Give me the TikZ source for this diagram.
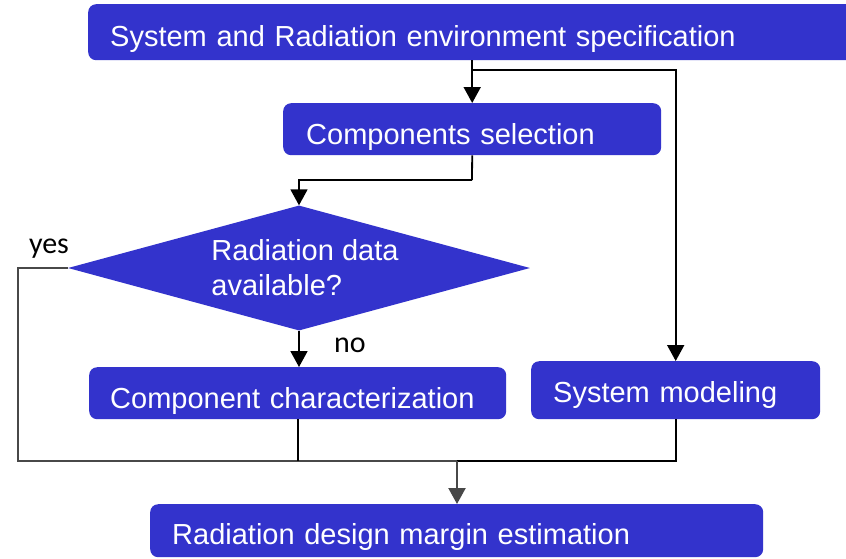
\documentclass[tikz,border=0pt]{standalone}
\usepackage{fontspec}
\setmainfont{Liberation Sans}
\newfontfamily\lblfont{Carlito}
\usetikzlibrary{shapes.geometric,arrows.meta}
\definecolor{boxblue}{RGB}{51,51,204}
\definecolor{loopgray}{RGB}{72,72,72}
\tikzset{
  stepbox/.style={rectangle, rounded corners=8pt, fill=boxblue, text=white,
    anchor=north west, align=left, inner ysep=0pt,
    font=\fontsize{29}{34}\selectfont},
  txtdrop/.style={text height=#1, text depth=0pt},
  decision/.style={diamond, aspect=3.7, fill=boxblue, text=white, inner sep=0pt,
    minimum width=462pt, minimum height=125pt, align=left,
    font=\fontsize{29}{35}\selectfont},
  flow/.style={draw=black, line width=1.8pt,
    -{Triangle[width=17pt,length=16pt]}},
  plain/.style={draw=black, line width=1.8pt},
  loopline/.style={draw=loopgray, line width=2pt},
  looparrow/.style={draw=loopgray, line width=2.2pt,
    -{Triangle[width=17pt,length=16pt]}},
  lbl/.style={text=black, anchor=base, font=\lblfont\fontsize{30}{34}\selectfont, inner sep=0pt}
}
\begin{document}
\begin{tikzpicture}[x=1pt, y=-1pt]
  \clip (0,0) rectangle (846,558);
  \fill[white] (0,0) rectangle (846,558);

  % process boxes
  \node[stepbox, txtdrop=28pt, minimum width=772pt, minimum height=56pt, text width=728pt, inner xsep=22pt]
    (spec) at (88,4) {System and Radiation environment specification};
  \node[stepbox, txtdrop=30pt, minimum width=378pt, minimum height=52pt, text width=332pt, inner xsep=23pt]
    (sel) at (283,103) {Components selection};
  \node[decision] (dia) at (299,268)
    {\hspace*{12pt}Radiation data\\\hspace*{12pt}available?};
  \node[stepbox, txtdrop=30pt, minimum width=417pt, minimum height=52pt, text width=375pt, inner xsep=21pt]
    (cc) at (89,367) {Component characterization};
  \node[stepbox, txtdrop=24pt, minimum width=289pt, minimum height=58pt, text width=245pt, inner xsep=22pt]
    (sysm) at (531,361) {System modeling};
  \node[stepbox, txtdrop=27pt, minimum width=613pt, minimum height=53pt, text width=569pt, inner xsep=22pt]
    (rdm) at (150,504) {Radiation design margin estimation};

  % branch labels
  \node[lbl] (yes) at (49,253) {yes};
  \node[lbl] (no) at (350,352) {no};

  % junction points
  \coordinate (j1) at (472,70);
  \coordinate (j2) at (472,180);
  \coordinate (yl) at (18,268);
  \coordinate (m) at (457,461);

  % connectors
  \draw[flow] (spec.south -| sel.north) -- (sel.north);
  \draw[flow] (j1) -| (sysm.north);
  \draw[plain] (sel.south) -- (j2);
  \draw[flow] (j2) -| (dia.north);
  \draw[flow] (dia.south) -- (dia.south |- cc.north);
  \draw[loopline] (dia.west) -- (yl) |- (m);
  \draw[plain] (cc.south) -- (cc.south |- m);
  \draw[plain] (sysm.south) |- (m);
  \draw[looparrow] (m) -- (m |- rdm.north);
\end{tikzpicture}
\end{document}
